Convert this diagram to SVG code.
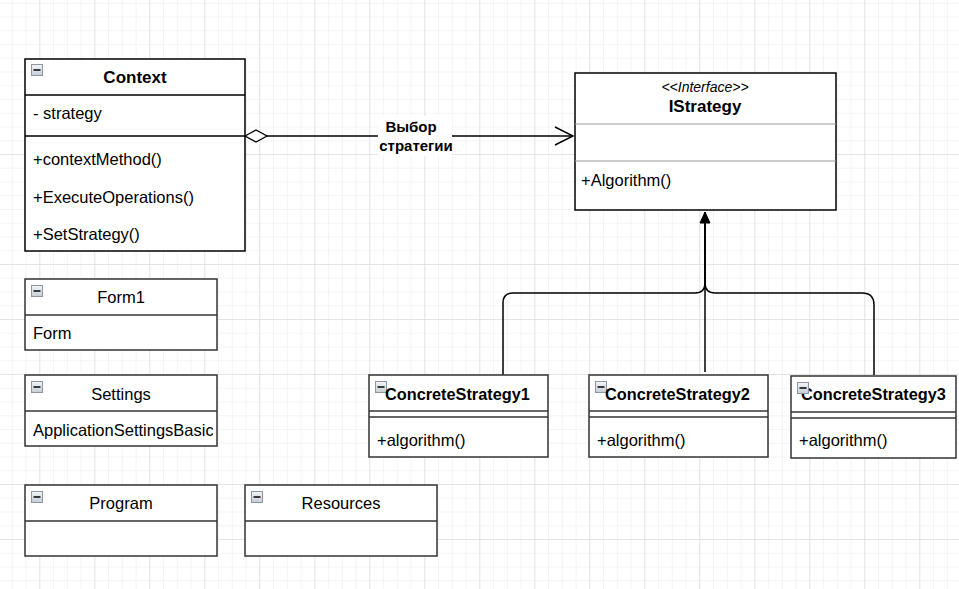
<svg xmlns="http://www.w3.org/2000/svg" width="959" height="589" viewBox="0 0 959 589">
<defs>
<pattern id="minor" width="13.75" height="13.75" patternUnits="userSpaceOnUse" x="-15.7" y="-11">
<path d="M0 0V13.75M0 0H13.75" fill="none" stroke="#f1f1f1" stroke-width="1.5"/>
</pattern>
<pattern id="major" width="55" height="55" patternUnits="userSpaceOnUse" x="-15.7" y="-11">
<path d="M0 0V55M0 0H55" fill="none" stroke="#d6d6d6" stroke-width="1"/>
</pattern>
<linearGradient id="ig" x1="0" y1="0" x2="0" y2="1">
<stop offset="0" stop-color="#f4f6f8"/>
<stop offset="1" stop-color="#c4ccd4"/>
</linearGradient>
<symbol id="icon" viewBox="0 0 12 12" width="12" height="12">
<rect x="0.5" y="0.5" width="11" height="11" fill="url(#ig)" stroke="#8a96a2" stroke-width="1"/>
<rect x="2.5" y="5" width="7" height="2" fill="#3a3a3a"/>
</symbol>
<marker id="diamond" markerWidth="26" markerHeight="14" refX="1" refY="7" orient="auto" markerUnits="userSpaceOnUse">
<path d="M1 7L12 1L23 7L12 13Z" fill="#fff" stroke="#000" stroke-width="1.3"/>
</marker>
<marker id="open" markerWidth="22" markerHeight="22" refX="19" refY="11" orient="auto" markerUnits="userSpaceOnUse">
<path d="M1 2L19 11L1 20" fill="none" stroke="#000" stroke-width="1.4"/>
</marker>
<marker id="tri" markerWidth="14" markerHeight="14" refX="12" refY="7" orient="auto" markerUnits="userSpaceOnUse">
<path d="M1 2L12 7L1 12Z" fill="#000" stroke="#000" stroke-width="1"/>
</marker>
<clipPath id="setclip"><rect x="26" y="412" width="187" height="34"/></clipPath>
</defs>
<style>
.box{fill:#fff;stroke:#000;stroke-width:1.5}
.box2{fill:#fff;stroke:#333;stroke-width:1.5}
.sep{stroke:#000;stroke-width:1.3}
.sep2{stroke:#333;stroke-width:1.5}
.gsep{stroke:#999;stroke-width:1.2}
.t{font-family:"Liberation Sans",Arial,sans-serif;font-size:16.5px;fill:#000}
.b{font-weight:bold}
.c{text-anchor:middle}
.i{font-style:italic}
.hd{font-size:17px}
.cs{font-size:16.3px}
.sm{font-size:14px}
.lb{font-size:15px}
.edge{fill:none;stroke:#000;stroke-width:1.5}
</style>
<rect width="959" height="589" fill="#fff"/>
<rect width="959" height="589" fill="url(#minor)"/>
<rect width="959" height="589" fill="url(#major)"/>

<g id="connectors">
<path class="edge" d="M245 136H573" marker-start="url(#diamond)" marker-end="url(#open)"/>
<rect x="378" y="116" width="74" height="40" fill="#fff"/>
<text class="t b c lb" x="411" y="132">Выбор</text>
<text class="t b c lb" x="416" y="151">стратегии</text>
<path class="edge" d="M503 375V303Q503 293 513 293H695Q705 293 705 283V212" marker-end="url(#tri)"/>
<path class="edge" d="M705 372V212"/>
<path class="edge" d="M874 375V305Q874 293 862 293H715Q705 293 705 283V212"/>
</g>

<g id="Context">
<rect class="box" x="25" y="59" width="220" height="192"/>
<line class="sep" x1="25" y1="95" x2="245" y2="95"/>
<line class="sep" x1="25" y1="136" x2="245" y2="136"/>
<use href="#icon" x="31" y="64"/>
<text class="t b c hd" x="135" y="83">Context</text>
<text class="t" x="33" y="119">- strategy</text>
<text class="t" x="33" y="165">+contextMethod()</text>
<text class="t" x="33" y="203">+ExecuteOperations()</text>
<text class="t" x="33" y="240">+SetStrategy()</text>
</g>

<g id="IStrategy">
<rect class="box" x="575" y="73" width="261" height="137"/>
<line class="gsep" x1="575" y1="124" x2="836" y2="124"/>
<line class="gsep" x1="575" y1="161" x2="836" y2="161"/>
<text class="t i c sm" x="705" y="92">&lt;&lt;Interface&gt;&gt;</text>
<text class="t b c hd" x="705" y="112">IStrategy</text>
<text class="t" x="581" y="186">+Algorithm()</text>
</g>

<g id="ConcreteStrategy1">
<rect class="box2" x="369" y="375" width="179" height="82"/>
<line class="sep2" x1="369" y1="411" x2="548" y2="411"/>
<line class="sep2" x1="369" y1="417" x2="548" y2="417"/>
<use href="#icon" x="375" y="381"/>
<text class="t b cs" x="385" y="400">ConcreteStrategy1</text>
<text class="t" x="377" y="446">+algorithm()</text>
</g>

<g id="ConcreteStrategy2">
<rect class="box2" x="589" y="375" width="179" height="82"/>
<line class="sep2" x1="589" y1="411" x2="768" y2="411"/>
<line class="sep2" x1="589" y1="417" x2="768" y2="417"/>
<use href="#icon" x="595" y="381"/>
<text class="t b cs" x="605" y="400">ConcreteStrategy2</text>
<text class="t" x="597" y="446">+algorithm()</text>
</g>

<g id="ConcreteStrategy3">
<rect class="box2" x="791" y="376" width="165" height="82"/>
<line class="sep2" x1="791" y1="412" x2="956" y2="412"/>
<line class="sep2" x1="791" y1="418" x2="956" y2="418"/>
<text class="t b cs" x="801" y="400">ConcreteStrategy3</text>
<use href="#icon" x="797" y="382"/>
<text class="t" x="799" y="446">+algorithm()</text>
</g>

<g id="Form1">
<rect class="box2" x="25" y="279" width="192" height="71"/>
<line class="sep2" x1="25" y1="315" x2="217" y2="315"/>
<use href="#icon" x="31" y="285"/>
<text class="t c" x="121" y="303">Form1</text>
<text class="t" x="33" y="339">Form</text>
</g>

<g id="Settings">
<rect class="box2" x="25" y="375" width="192" height="71"/>
<line class="sep2" x1="25" y1="411" x2="217" y2="411"/>
<use href="#icon" x="31" y="381"/>
<text class="t c" x="121" y="400">Settings</text>
<text class="t" x="33" y="436" clip-path="url(#setclip)">ApplicationSettingsBasic</text>
</g>

<g id="Program">
<rect class="box2" x="25" y="485" width="192" height="71"/>
<line class="sep2" x1="25" y1="521" x2="217" y2="521"/>
<use href="#icon" x="31" y="491"/>
<text class="t c" x="121" y="509">Program</text>
</g>

<g id="Resources">
<rect class="box2" x="245" y="485" width="192" height="71"/>
<line class="sep2" x1="245" y1="521" x2="437" y2="521"/>
<use href="#icon" x="251" y="491"/>
<text class="t c" x="341" y="509">Resources</text>
</g>
</svg>
